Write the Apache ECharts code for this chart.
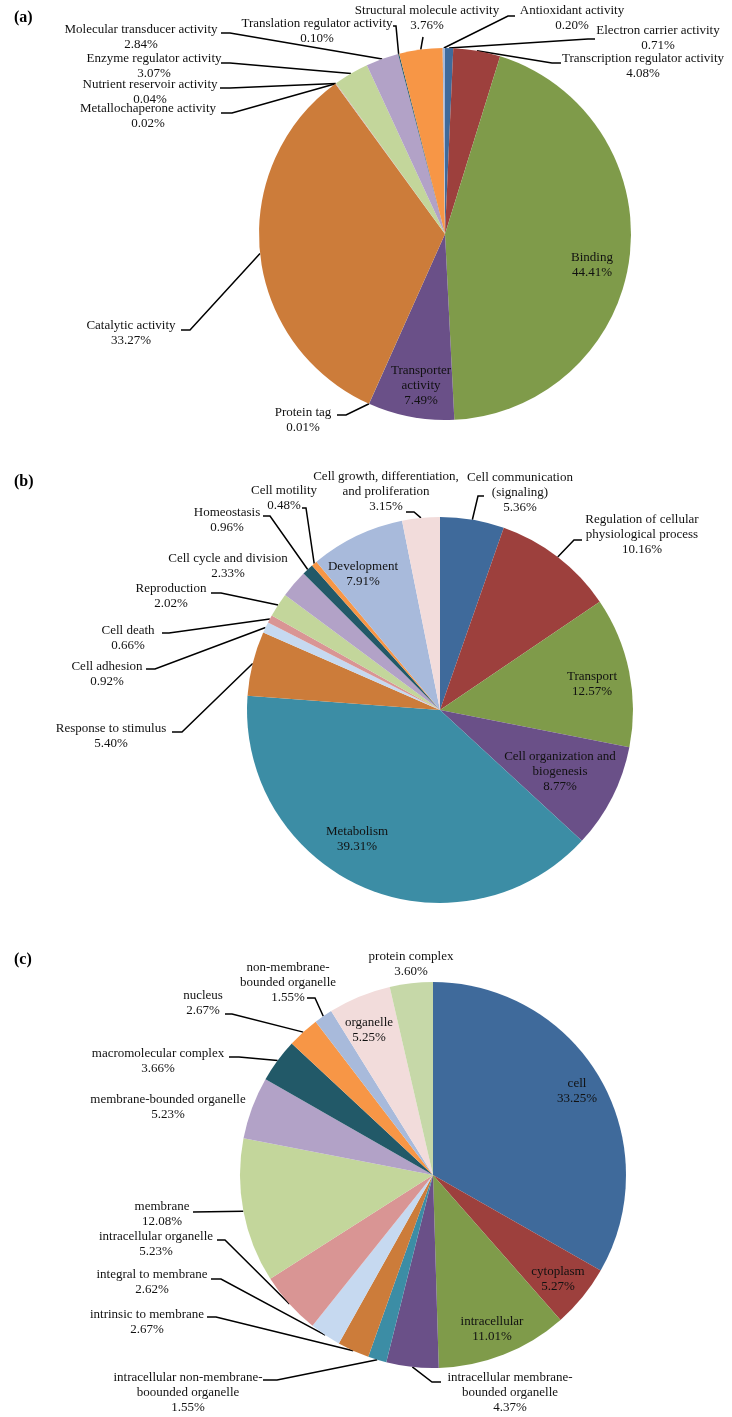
<!DOCTYPE html>
<html>
<head>
<meta charset="utf-8">
<script src="https://cdn.jsdelivr.net/npm/echarts@6/dist/echarts.min.js"></script>
<style>
html,body{margin:0;padding:0;background:#fff;}
#chart{width:732px;height:1417px;}
</style>
</head>
<body>
<div id="chart"></div>
<script>
// ---------- DATA ----------
const namesA = ['Electron carrier activity','Transcription regulator activity','Binding','Transporter\nactivity','Protein tag','Catalytic activity','Metallochaperone activity','Nutrient reservoir activity','Enzyme regulator activity','Molecular transducer activity','Translation regulator activity','Structural molecule activity','Antioxidant activity'];
const valuesA = [0.71, 4.08, 44.41, 7.49, 0.01, 33.27, 0.02, 0.04, 3.07, 2.84, 0.10, 3.76, 0.20];

const namesB = ['Cell communication\n(signaling)','Regulation of cellular\nphysiological process','Transport','Cell organization and\nbiogenesis','Metabolism','Response to stimulus','Cell adhesion','Cell death','Reproduction','Cell cycle and division','Homeostasis','Cell motility','Development','Cell growth, differentiation,\nand proliferation'];
const valuesB = [5.36, 10.16, 12.57, 8.77, 39.31, 5.40, 0.92, 0.66, 2.02, 2.33, 0.96, 0.48, 7.91, 3.15];

const namesC = ['cell','cytoplasm','intracellular','intracellular membrane-\nbounded organelle','intracellular non-membrane-\nboounded organelle','intrinsic to membrane','integral to membrane','intracellular organelle','membrane','membrane-bounded organelle','macromolecular complex','nucleus','non-membrane-\nbounded organelle','organelle','protein complex'];
const valuesC = [33.25, 5.27, 11.01, 4.37, 1.55, 2.67, 2.62, 5.23, 12.08, 5.23, 3.66, 2.67, 1.55, 5.25, 3.60];

const panelLabels = ['(a)', '(b)', '(c)'];

// ---------- STYLE / LAYOUT ----------
const palette = ['#3F6A9B','#9D403D','#7F9B4A','#6A5088','#3C8DA5','#CC7C3A','#C6D9F0','#D99594','#C3D69B','#B2A2C7','#225968','#F79646','#A8BADB','#F2DCDB','#C6D8A8'];

// label placement: [textX, textY, elbowX, elbowY, stubX, stubY]; 2 entries = no leader line
const layoutA = [
  [658, 38.5, 588, 39, 595, 39],
  [643, 66.5, 552, 63, 561, 63],
  [592, 265],
  [421, 386],
  [303, 420.5, 346, 415, 337, 415],
  [131, 333.5, 190, 330, 181, 330],
  [148, 116, 232, 113, 221, 113],
  [150, 92.5, 230, 88, 220, 88],
  [154, 66, 230, 63, 221, 63],
  [141, 37, 230, 33, 221, 33],
  [317, 31.5, 396, 26, 393, 26],
  [427, 18.5, 423, 37, 423, 37],
  [572, 18, 508, 16, 515, 16]
];
const layoutB = [
  [520, 493, 478, 496, 484, 496],
  [642, 535, 574, 540, 582, 540],
  [592, 684.5],
  [560, 772],
  [357, 839.5],
  [111, 736, 182, 732, 172, 732],
  [107, 674, 155, 669, 146, 669],
  [128, 638.5, 169, 633, 162, 633],
  [171, 596.5, 221, 593, 211, 593],
  [228, 566],
  [227, 520.5, 270, 516, 263, 516],
  [284, 498.5, 306, 508, 302, 508],
  [363, 574.5],
  [386, 492, 414, 512, 406, 512]
];
const layoutC = [
  [577, 1091],
  [558, 1279.5],
  [492, 1329],
  [510, 1393, 432, 1382, 441, 1382],
  [188, 1393, 277, 1380, 263, 1380],
  [147, 1322.5, 216, 1317, 207, 1317],
  [152, 1282.5, 221, 1279, 211, 1279],
  [156, 1244.5, 225, 1240, 217, 1240],
  [162, 1214.5, 193, 1212, 193, 1212],
  [168, 1107.5],
  [158, 1061.5, 239, 1057, 229, 1057],
  [203, 1003, 232, 1014, 225, 1014],
  [288, 983, 315, 998, 307, 998],
  [369, 1030],
  [411, 964.5]
];
const layouts = [layoutA, layoutB, layoutC];
const centers = [[445, 234], [440, 710], [433, 1175]];
const radii = [186, 193, 193];
const panelTops = [5, 469, 947];

const FONT = "'Liberation Serif','Times New Roman',serif";

function buildData(names, values, layout) {
  return names.map((n, i) => ({
    name: n,
    value: values[i],
    itemStyle: { color: palette[i] },
    labelLine: { show: layout[i].length > 2 }
  }));
}

const seriesNames = ['a', 'b', 'c'];
const allNames = [namesA, namesB, namesC];
const allValues = [valuesA, valuesB, valuesC];

const series = [0, 1, 2].map(s => ({
  type: 'pie',
  name: seriesNames[s],
  center: centers[s],
  radius: radii[s],
  startAngle: 90,
  clockwise: true,
  avoidLabelOverlap: false,
  animation: false,
  silent: true,
  itemStyle: { borderWidth: 0 },
  label: {
    show: true,
    position: 'outside',
    overflow: 'none',
    fontFamily: FONT,
    fontSize: 13,
    lineHeight: 15,
    color: '#111',
    align: 'center',
    formatter: p => p.name + '\n' + p.value.toFixed(2) + '%'
  },
  labelLine: {
    show: true,
    length: 10,
    length2: 10,
    lineStyle: { color: '#000', width: 1.5 }
  },
  labelLayout: function (params) {
    const L = layouts[s][params.dataIndex];
    const out = { x: L[0], y: L[1], align: 'center', verticalAlign: 'middle' };
    if (L.length > 2 && params.labelLinePoints) {
      out.labelLinePoints = [params.labelLinePoints[0], [L[2], L[3]], [L[4], L[5]]];
    }
    return out;
  },
  data: buildData(allNames[s], allValues[s], layouts[s])
}));

const chart = echarts.init(document.getElementById('chart'), null, { renderer: 'canvas' });
chart.setOption({
  backgroundColor: '#fff',
  animation: false,
  title: panelLabels.map((t, i) => ({
    text: t,
    left: 9,
    top: panelTops[i],
    textStyle: { fontFamily: FONT, fontSize: 16, fontWeight: 'bold', color: '#000' }
  })),
  series: series
});
</script>
</body>
</html>
